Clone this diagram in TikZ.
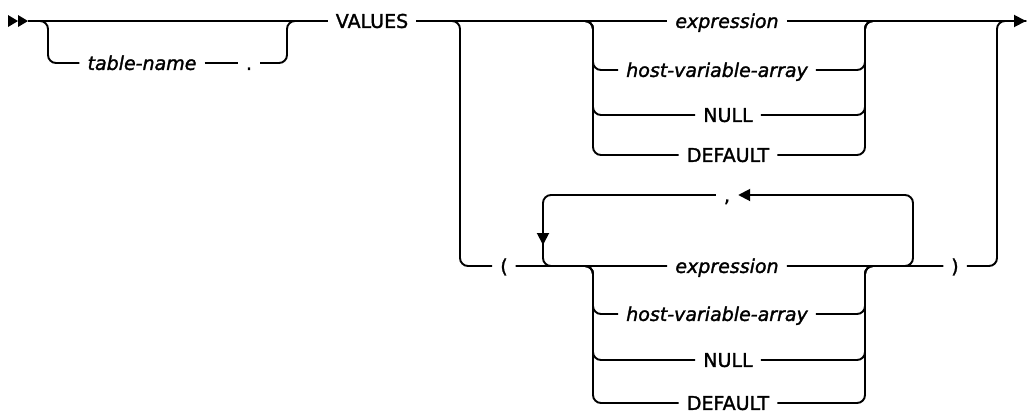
\documentclass[tikz,border=0pt]{standalone}
\usepackage{fontspec}
\setmainfont[FakeBold=1.6,ItalicFont={DejaVu Sans Oblique},ItalicFeatures={FakeBold=1.6}]{DejaVu Sans}
\usetikzlibrary{arrows.meta}

\tikzset{
  rail/.style={line width=1.9pt, rounded corners=8pt},
  kw/.style={inner xsep=8pt, inner ysep=0pt, text height=13.8pt, text depth=0pt,
    font=\fontsize{19}{22}\selectfont},
  var/.style={kw, font=\fontsize{19}{22}\selectfont\itshape},
  tip/.style={-{Triangle[length=12pt,width=12pt]}},
}

\begin{document}
\begin{tikzpicture}[x=1pt, y=-1pt]
\useasboundingbox (0,0) rectangle (1029,413);

% start and end of the statement
\fill (8,15) -- (18,21) -- (8,27) -- cycle;
\fill (18,15) -- (28,21) -- (18,27) -- cycle;
\coordinate (start) at (28,21);
\coordinate (stop) at (1026,21);

% labels
\node[var] (tname) at (142,63) {table-name};
\node[kw] (dot) at (249,63) {.};
\node[kw] (values) at (372,21) {VALUES};
\node[var] (expA) at (727,21) {expression};
\node[var] (hostA) at (717,70) {host-variable-array};
\node[kw] (nullA) at (728,115) {NULL};
\node[kw] (defA) at (728,155) {DEFAULT};
\node[kw] (lpar) at (504,266) {(};
\node[var] (expB) at (727,266) {expression};
\node[var] (hostB) at (717,314) {host-variable-array};
\node[kw] (nullB) at (728,360) {NULL};
\node[kw] (defB) at (728,403) {DEFAULT};
\node[kw] (comma) at (727,195) {,};
\node[kw] (rpar) at (955,266) {)};

% main line
\draw[rail] (start) -- (values.west);
\draw[rail] (values.east) -- (expA.west);
\draw[rail,tip] (expA.east) -- (stop);

% optional table-name
\draw[rail] (start) -| (48,63) -- (tname.west);
\draw[rail] (tname.east) -- (dot.west);
\draw[rail] (dot.east) -| (287,21) -- (values.west);

% single row
\draw[rail] (values.east) -| (593,70) -- (hostA.west);
\draw[rail] (values.east) -| (593,115) -- (nullA.west);
\draw[rail] (values.east) -| (593,155) -- (defA.west);
\draw[rail] (hostA.east) -| (865,21) -- (stop);
\draw[rail] (nullA.east) -| (865,21) -- (stop);
\draw[rail] (defA.east) -| (865,21) -- (stop);

% list in parentheses
\draw[rail] (values.east) -| (460,266) -- (lpar.west);
\draw[rail] (lpar.east) -- (expB.west);
\draw[rail] (lpar.east) -| (593,314) -- (hostB.west);
\draw[rail] (lpar.east) -| (593,360) -- (nullB.west);
\draw[rail] (lpar.east) -| (593,403) -- (defB.west);
\draw[rail] (expB.east) -- (rpar.west);
\draw[rail] (hostB.east) -| (865,266) -- (rpar.west);
\draw[rail] (nullB.east) -| (865,266) -- (rpar.west);
\draw[rail] (defB.east) -| (865,266) -- (rpar.west);
\draw[rail] (rpar.east) -| (997,21) -- (stop);

% repeat loop
\draw[rail,tip] (expB.east) -| (913,195) -- (comma.east);
\draw[rail] (comma.west) -| (543,266) -- (expB.west);
\coordinate (loopdn) at (543,245);
\draw[line width=1.9pt,tip] (543,220) -- (loopdn);
\end{tikzpicture}
\end{document}
